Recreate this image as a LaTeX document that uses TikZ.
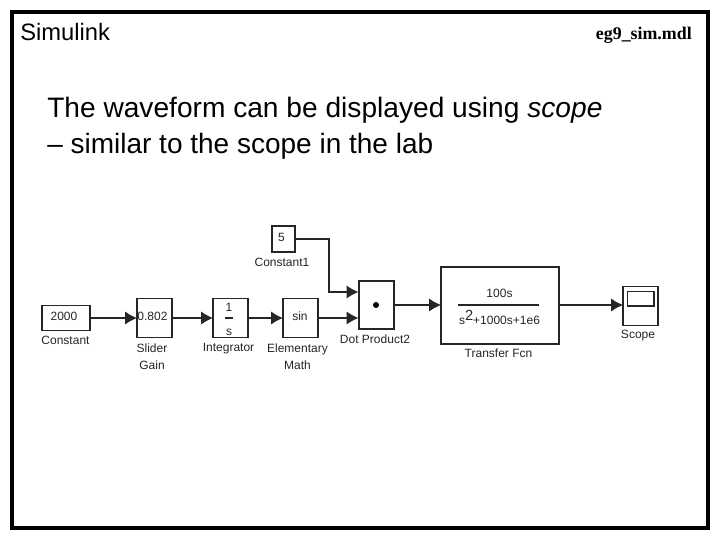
\documentclass[tikz,border=0pt]{standalone}
\usepackage{fontspec}
\setmainfont{Liberation Sans}
\newfontfamily\filefont{Liberation Serif}
\usetikzlibrary{arrows.meta}
\tikzset{
  block/.style={draw=black!85,line width=1pt,inner sep=0pt,outer sep=0pt},
  tag/.style={inner sep=0pt,font=\fontsize{9}{13}\selectfont,align=center,text=black!85},
  wire/.style={draw=black!85,line width=1pt,-{Latex[length=9pt,width=10pt]}},
  bar/.style={draw=black!85,line width=1pt}
}
\begin{document}
\begin{tikzpicture}[x=0.75pt,y=-0.75pt]
\useasboundingbox (0,0) rectangle (720,540);
\fill [white] (0,0) rectangle (720,540);

\draw [line width=3pt] (12,12) rectangle (708,528);

\node (title) [anchor=base west,inner sep=0pt,font=\fontsize{17.8}{20}\selectfont] at (20,40) {Simulink};
\node (file) [anchor=base east,inner sep=0pt,font=\filefont\bfseries\fontsize{13.4}{15}\selectfont] at (692,39) {eg9\_sim.mdl};
\node (line1) [anchor=base west,inner sep=0pt,font=\fontsize{21.1}{24}\selectfont] at (47,117) {The waveform can be displayed using \textit{scope}};
\node (line2) [anchor=base west,inner sep=0pt,font=\fontsize{21}{24}\selectfont] at (47,153) {-- similar to the scope in the lab};

% blocks
\node (const) [block,minimum width=36pt,minimum height=18.75pt] at (66,318) {};
\node (slider) [block,minimum width=26.25pt,minimum height=29.25pt] at (154.5,318) {};
\node (integ) [block,minimum width=26.25pt,minimum height=29.25pt] at (230.5,318) {};
\node (math) [block,minimum width=26.25pt,minimum height=29.25pt] at (300.5,318) {};
\node (const1) [block,minimum width=17.25pt,minimum height=19.5pt] at (283.5,239) {};
\node (dot) [block,minimum width=26.25pt,minimum height=36pt] at (376.5,305) {};
\node (tf) [block,minimum width=88.5pt,minimum height=57.75pt] at (500,305.5) {};
\node (scope) [block,minimum width=26.25pt,minimum height=29.25pt] at (640.5,306) {};
\node (screen) [block,minimum width=20pt,minimum height=11pt] at (640.5,298.5) {};

% block contents
\node (val) [tag] at (64,316) {2000};
\node (gain) [tag] at (152.5,316) {0.802};
\node (one) [tag] at (229,307) {1};
\node (ess) [tag] at (229,332.5) {s};
\coordinate (ibarl) at (225,318);
\coordinate (ibarr) at (233,318);
\draw [bar] (ibarl) -- (ibarr);
\node (sinus) [tag] at (300,316) {sin};
\node (five) [tag] at (281.5,237) {5};
\node (dotmark) [circle,fill=black,inner sep=0pt,minimum size=4.5pt] at (376,305) {};
\node (num) [tag] at (499.5,293) {100s};
\node (den) [tag] at (499.5,317) {s\raisebox{3pt}{\fontsize{11}{11}\selectfont 2}+1000s+1e6};
\coordinate (tbarl) at (458,305);
\coordinate (tbarr) at (539,305);
\draw [bar] (tbarl) -- (tbarr);

% block names
\node (constname) [tag] at (65.5,340) {Constant};
\node (slidername) [tag] at (152,356.5) {Slider\\Gain};
\node (integname) [tag] at (228.5,349) {Integrator};
\node (mathname) [tag] at (297.5,356.5) {Elementary\\Math};
\node (const1name) [tag] at (282,262) {Constant1};
\node (dotname) [tag] at (375,339.5) {Dot Product2};
\node (tfname) [tag] at (498.5,353.5) {Transfer Fcn};
\node (scopename) [tag] at (638,336) {Scope};

% connections
\coordinate (dotinup) at (358.5,292);
\coordinate (dotindown) at (358.5,318);
\coordinate (bend) at (329,292);
\draw [wire] (const.east) -- (slider.west);
\draw [wire] (slider.east) -- (integ.west);
\draw [wire] (integ.east) -- (math.west);
\draw [wire] (math.east) -- (dotindown);
\draw [wire] (const1.east) -| (bend) -- (dotinup);
\draw [wire] (dot.east) -- (tf.west |- dot.east);
\draw [wire] (tf.east |- dot.east) -- (scope.west |- dot.east);
\end{tikzpicture}
\end{document}
